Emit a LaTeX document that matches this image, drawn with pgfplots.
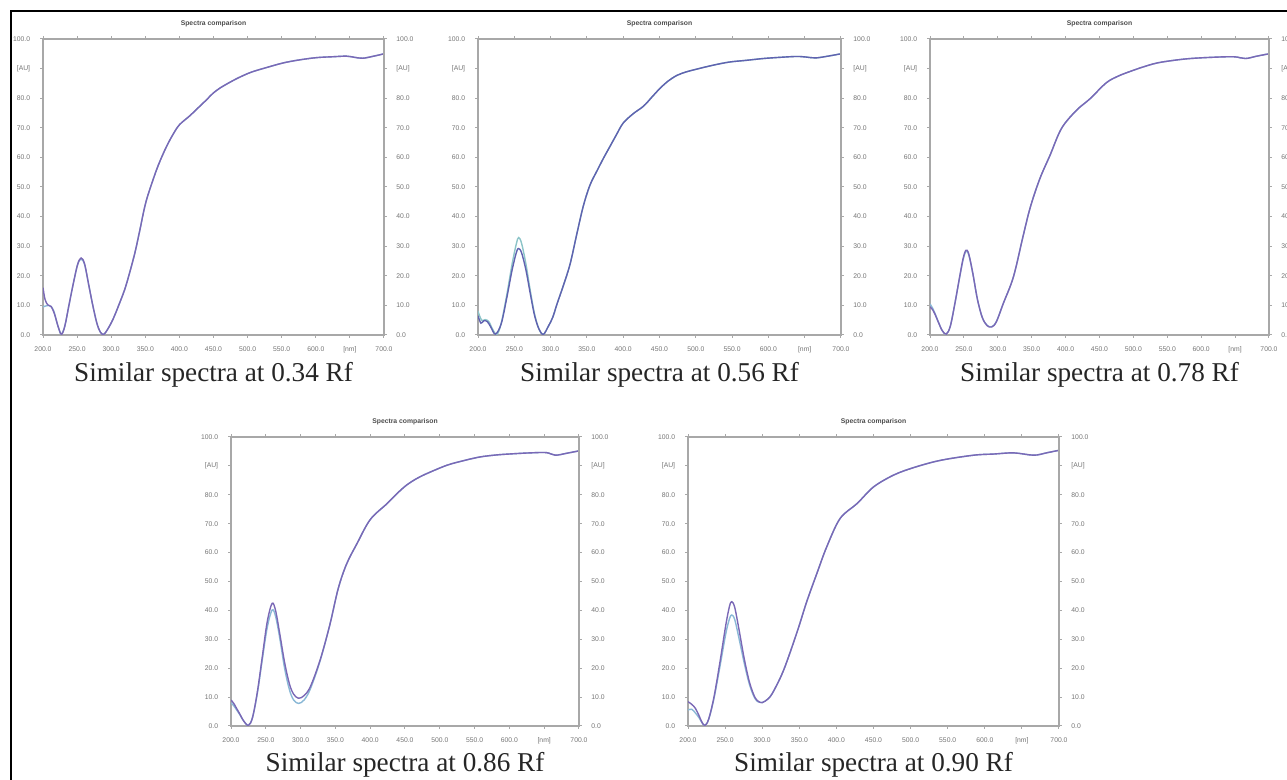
\documentclass[border=0pt]{standalone}
\usepackage{fontspec}
\setmainfont{Liberation Serif}
\newfontfamily\lsans{Liberation Sans}
\usepackage{pgfplots}
\pgfplotsset{compat=1.18}

\definecolor{specPurple}{RGB}{122,104,182}
\definecolor{specBlue}{RGB}{96,98,176}
\definecolor{specCyan}{RGB}{138,184,214}
\definecolor{specTeal}{RGB}{140,196,200}
\definecolor{axgray}{RGB}{168,168,168}

% one unit = 0.5pt, so the picture is 1287 x 780 units
\pgfplotsset{
  specbase/.style={
    scale only axis, anchor=north west,
    xmin=200, xmax=700, ymin=0, ymax=100,
    xtick={200,250,...,700}, ytick={0,10,...,100},
    xticklabels={200.0,250.0,300.0,350.0,400.0,450.0,500.0,550.0,600.0,{[nm]},700.0},
    yticklabels={0.0,10.0,20.0,30.0,40.0,50.0,60.0,70.0,80.0,{[AU]},100.0},
    tick align=outside, major tick length=1.3pt,
    axis line style={draw=axgray, line width=0.75pt},
    every tick/.style={draw=axgray, line width=0.5pt},
    tick label style={font=\lsans\fontsize{3.4}{4}\selectfont, text=black!55},
    xticklabel style={yshift=-1.2pt},
  },
  spectrum/.style={
    specbase,
    yticklabel style={xshift=-1.6pt},
    title={Spectra comparison},
    title style={font=\lsans\bfseries\fontsize{3.4}{4}\selectfont, text=black!70, yshift=-3.5pt},
    every axis plot/.append style={line width=0.7pt, smooth, tension=0.55, no markers},
  },
  rightaxis/.style={
    specbase,
    axis x line=none, axis y line*=right,
    yticklabel style={xshift=1.4pt},
  },
}

\pgfplotstableread{
x y
200 16
203 12
207 10.2
212 9.6
217 7
222 3
227 0.2
232 3
238 10
245 18
251 24
256 26
261 24
267 17
273 10
279 4
284 1
289 0.2
295 2
303 5.5
312 10.6
320 15.5
327 21
335 28
342 35.4
351 45
364 54.2
372 59
381 63.6
390 67.5
400 71
415 74
430 77.3
440 79.5
449 81.6
460 83.5
479 86
495 87.8
508 89
530 90.5
552 91.9
575 92.9
601 93.7
625 94
645 94.2
657 93.8
669 93.5
685 94.2
700 95
}\pa
\pgfplotstableread{
x y
200 9.5
204 9.8
208 10
212 9.6
216 8
220 4.5
224 1.5
227 0.3
232 3
238 10
245 18
251 24
256 25.6
261 23.8
267 17
273 10
279 4
284 1
289 0.2
295 2
303 5.5
312 10.6
320 15.5
327 21
335 28
342 35.4
351 45
364 54.2
372 59
381 63.6
390 67.5
400 71
415 74
430 77.3
440 79.5
449 81.6
460 83.5
479 86
495 87.8
508 89
530 90.5
552 91.9
575 92.9
601 93.7
625 94
645 94.2
657 93.8
669 93.5
685 94.2
700 95
}\pb

\pgfplotstableread{
x y
200 8
205 5
210 5.2
215 4.5
220 2
226 0.2
232 4
240 14
247 24
253 31
256 32.9
260 31
266 24
272 15
278 7
284 2
290 0.2
297 3
303 6
309 10.6
318 17
327 24.1
336 34
345 43.5
354 50.5
364 55.5
373 59.8
382 63.8
391 67.8
400 71.6
414 74.8
428 77.3
440 80.5
451 83.4
462 85.8
474 87.7
487 88.9
501 89.8
523 91.1
546 92.2
570 92.8
593 93.4
616 93.8
639 94.1
652 93.9
665 93.6
682 94.2
700 95
}\pc
\pgfplotstableread{
x y
200 6.5
204 4
208 4.8
213 4.5
218 2.5
224 0.3
232 3.8
240 13
247 22
253 28
256 29.2
260 27.8
266 22
272 14
278 6.5
284 2
290 0.2
297 3
303 6
309 10.6
318 17
327 24.1
336 34
345 43.5
354 50.5
364 55.5
373 59.8
382 63.8
391 67.8
400 71.6
414 74.8
428 77.3
440 80.5
451 83.4
462 85.8
474 87.7
487 88.9
501 89.8
523 91.1
546 92.2
570 92.8
593 93.4
616 93.8
639 94.1
652 93.9
665 93.6
682 94.2
700 95
}\pd

\pgfplotstableread{
x y
200 9.5
204 8.5
207 7.2
212 4.5
218 1.5
224 0.3
230 3
237 11
244 20
249 26
253 28.6
257 27.5
263 21
270 12
277 6
284 3.2
291 2.7
298 4.5
308 10.6
323 19.6
337 33.1
348 43.2
362 52.8
377 60.7
394 69.8
416 75.9
436 79.8
460 85.2
478 87.5
496 89.1
515 90.6
535 91.9
560 92.8
584 93.4
615 93.8
648 94
665 93.4
682 94.2
700 95
}\pe
\pgfplotstableread{
x y
200 10.5
204 9
207 7.5
212 4.6
218 1.5
224 0.3
230 3
237 11
244 19.8
249 25.6
253 28.2
257 27.2
263 21
270 12
277 6
284 3.3
291 2.8
298 4.6
308 10.6
323 19.6
337 33.1
348 43.2
362 52.8
377 60.7
394 69.8
416 75.9
436 79.8
460 85.2
478 87.5
496 89.1
515 90.6
535 91.9
560 92.8
584 93.4
615 93.8
648 94
665 93.4
682 94.2
700 95
}\pf

\pgfplotstableread{
x y
200 9
204 7.8
208 6.1
213 4
218 1.8
225 0.2
231 3
238 12
245 24
252 36
259 42.4
264 40
270 32
277 22
284 14.5
290 11
297 9.6
305 10.5
314 13.6
328 22.8
342 35
354 47.5
366 56
381 63.1
400 71.4
424 76.9
438 80.3
452 83.3
466 85.5
481 87.3
510 90.2
534 91.8
558 93.1
582 93.8
606 94.2
630 94.5
653 94.6
666 93.7
683 94.4
700 95.2
}\pg
\pgfplotstableread{
x y
200 8
204 7
208 5.6
213 3.8
218 1.8
225 0.2
231 3
238 11.5
245 23
252 34
259 40.1
264 38
270 30.5
277 20
284 12.5
290 9
297 7.8
305 9
314 12.8
328 22.5
342 35
354 47.5
366 56
381 63.1
400 71.4
424 76.9
438 80.3
452 83.3
466 85.5
481 87.3
510 90.2
534 91.8
558 93.1
582 93.8
606 94.2
630 94.5
653 94.6
666 93.7
683 94.4
700 95.2
}\ph

\pgfplotstableread{
x y
200 8.4
205 7.5
210 6.1
215 3.5
219 1.2
223 0.2
228 2.5
235 10
243 22
251 35
256 41.5
259 43
263 41
269 33
276 23
283 15
290 10
295 8.5
300 8.1
308 9.4
315 11.9
329 19.4
347 32.5
360 43
374 53
387 62
405 71.8
428 77
450 82.7
477 86.8
504 89.4
540 91.9
585 93.7
612 94.1
639 94.5
666 93.7
683 94.5
700 95.4
}\pi
\pgfplotstableread{
x y
200 5.5
205 5.8
210 4.5
215 2.8
219 1.1
223 0.2
228 2.4
235 9.5
243 20.5
251 32
256 37.2
259 38.4
263 36.8
269 30
276 21.5
283 14.2
290 9.6
295 8.3
300 8.1
308 9.4
315 11.9
329 19.4
347 32.5
360 43
374 53
387 62
405 71.8
428 77
450 82.7
477 86.8
504 89.4
540 91.9
585 93.7
612 94.1
639 94.5
666 93.7
683 94.5
700 95.4
}\pj

\begin{document}
\begin{tikzpicture}[x=0.5pt,y=0.5pt]
\useasboundingbox (0,0) rectangle (1287,780);
\draw[line width=1pt] (11,0) -- (11,769) -- (1287,769);

% top row
\begin{axis}[spectrum, at={(21.5pt,370.5pt)}, width=170.5pt, height=148pt]
\addplot[specCyan] table {\pb};
\addplot[specPurple] table {\pa};
\end{axis}
\begin{axis}[rightaxis, at={(21.5pt,370.5pt)}, width=170.5pt, height=148pt]
\end{axis}

\begin{axis}[spectrum, at={(239pt,370.5pt)}, width=181.5pt, height=148pt]
\addplot[specTeal] table {\pc};
\addplot[specBlue] table {\pd};
\end{axis}
\begin{axis}[rightaxis, at={(239pt,370.5pt)}, width=181.5pt, height=148pt]
\end{axis}

\begin{axis}[spectrum, at={(465pt,370.5pt)}, width=169.5pt, height=148pt]
\addplot[specCyan] table {\pf};
\addplot[specPurple] table {\pe};
\end{axis}
\begin{axis}[rightaxis, at={(465pt,370.5pt)}, width=169.5pt, height=148pt]
\end{axis}

% bottom row
\begin{axis}[spectrum, at={(115.5pt,171.5pt)}, width=174pt, height=144.5pt]
\addplot[specCyan] table {\ph};
\addplot[specPurple] table {\pg};
\end{axis}
\begin{axis}[rightaxis, at={(115.5pt,171.5pt)}, width=174pt, height=144.5pt]
\end{axis}

\begin{axis}[spectrum, at={(344pt,171.5pt)}, width=185.5pt, height=144.5pt]
\addplot[specCyan] table {\pj};
\addplot[specPurple] table {\pi};
\end{axis}
\begin{axis}[rightaxis, at={(344pt,171.5pt)}, width=185.5pt, height=144.5pt]
\end{axis}

\begin{scope}[every node/.style={font=\fontsize{13.6}{16}\selectfont, text=black!85}]
\node at (213.5,405) {Similar spectra at 0.34 Rf};
\node at (659.5,405) {Similar spectra at 0.56 Rf};
\node at (1099.5,405) {Similar spectra at 0.78 Rf};
\node at (405,15) {Similar spectra at 0.86 Rf};
\node at (873.5,15) {Similar spectra at 0.90 Rf};
\end{scope}
\end{tikzpicture}
\end{document}
